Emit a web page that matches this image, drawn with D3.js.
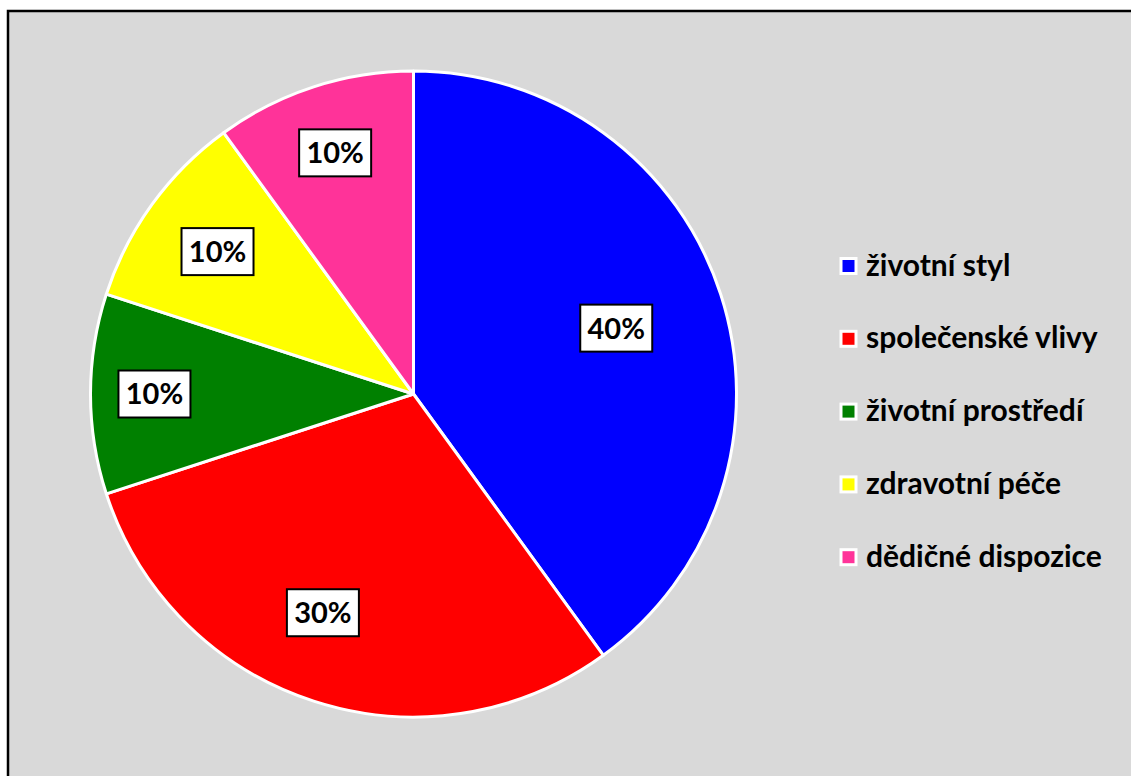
<!DOCTYPE html>
<html>
<head>
<meta charset="utf-8">
<script src="https://cdn.jsdelivr.net/npm/d3@7/dist/d3.min.js"></script>
<style>
  html, body { margin: 0; padding: 0; background: #ffffff; }
  svg { display: block; }
</style>
</head>
<body>
<svg id="chart" width="1131" height="776"></svg>
<script>
// ---- data ----
const categories = ["životní styl", "společenské vlivy", "životní prostředí", "zdravotní péče", "dědičné dispozice"];
const values = [40, 30, 10, 10, 10];
const colors = ["#0000ff", "#ff0000", "#008000", "#ffff00", "#ff3399"];

// ---- layout ----
const W = 1131, H = 776;
const cx = 413.5, cy = 394, R = 323;
const labelRadiusFactor = [0.66, 0.733, 0.802, 0.75, 0.785];
const labelAngleShift = [0, 4.5, 0, 0, 0]; // degrees
const font = "Lato, 'Liberation Sans', Arial, sans-serif";

const svg = d3.select("#chart");

// frame
svg.append("rect")
  .attr("x", 8).attr("y", 11)
  .attr("width", W + 20).attr("height", H + 20)
  .attr("fill", "#d9d9d9")
  .attr("stroke", "#000").attr("stroke-width", 2.5);

const total = d3.sum(values);
const pie = d3.pie().sort(null).value(d => d)(values);
const arc = d3.arc().innerRadius(0).outerRadius(R);

const g = svg.append("g").attr("transform", `translate(${cx},${cy})`);

g.selectAll("path.slice")
  .data(pie)
  .join("path")
  .attr("class", "slice")
  .attr("d", arc)
  .attr("fill", (d, i) => colors[i])
  .attr("stroke", "#ffffff")
  .attr("stroke-width", 3)
  .attr("stroke-linejoin", "round");

// labels
const boxW = 72, boxH = 47;
const lab = g.selectAll("g.lab")
  .data(pie)
  .join("g")
  .attr("class", "lab")
  .attr("transform", (d, i) => {
    const a = (d.startAngle + d.endAngle) / 2 + labelAngleShift[i] * Math.PI / 180;
    const r = R * labelRadiusFactor[i];
    return `translate(${r * Math.sin(a)},${-r * Math.cos(a)})`;
  });

lab.append("rect")
  .attr("x", -boxW / 2).attr("y", -boxH / 2)
  .attr("width", boxW).attr("height", boxH)
  .attr("fill", "#ffffff")
  .attr("stroke", "#000").attr("stroke-width", 2);

lab.append("text")
  .attr("text-anchor", "middle")
  .attr("dy", "0.36em")
  .attr("font-family", font)
  .attr("font-weight", "bold")
  .attr("font-size", 29)
  .attr("fill", "#000")
  .text(d => Math.round(d.value / total * 100) + "%");

// legend
const legY = d3.scalePoint().domain(categories).range([266, 557.2]);
const leg = svg.append("g");
const items = leg.selectAll("g.item")
  .data(categories)
  .join("g")
  .attr("class", "item")
  .attr("transform", d => `translate(848.5,${legY(d)})`);

items.append("rect")
  .attr("x", -7.5).attr("y", -7.5)
  .attr("width", 15).attr("height", 15)
  .attr("fill", (d, i) => colors[i])
  .attr("stroke", "#ffffff").attr("stroke-width", 3);

items.append("text")
  .attr("x", 17.5)
  .attr("y", 9.5)
  .attr("font-family", font)
  .attr("font-weight", "bold")
  .attr("font-size", 30)
  .attr("fill", "#000")
  .text(d => d);
</script>
</body>
</html>
